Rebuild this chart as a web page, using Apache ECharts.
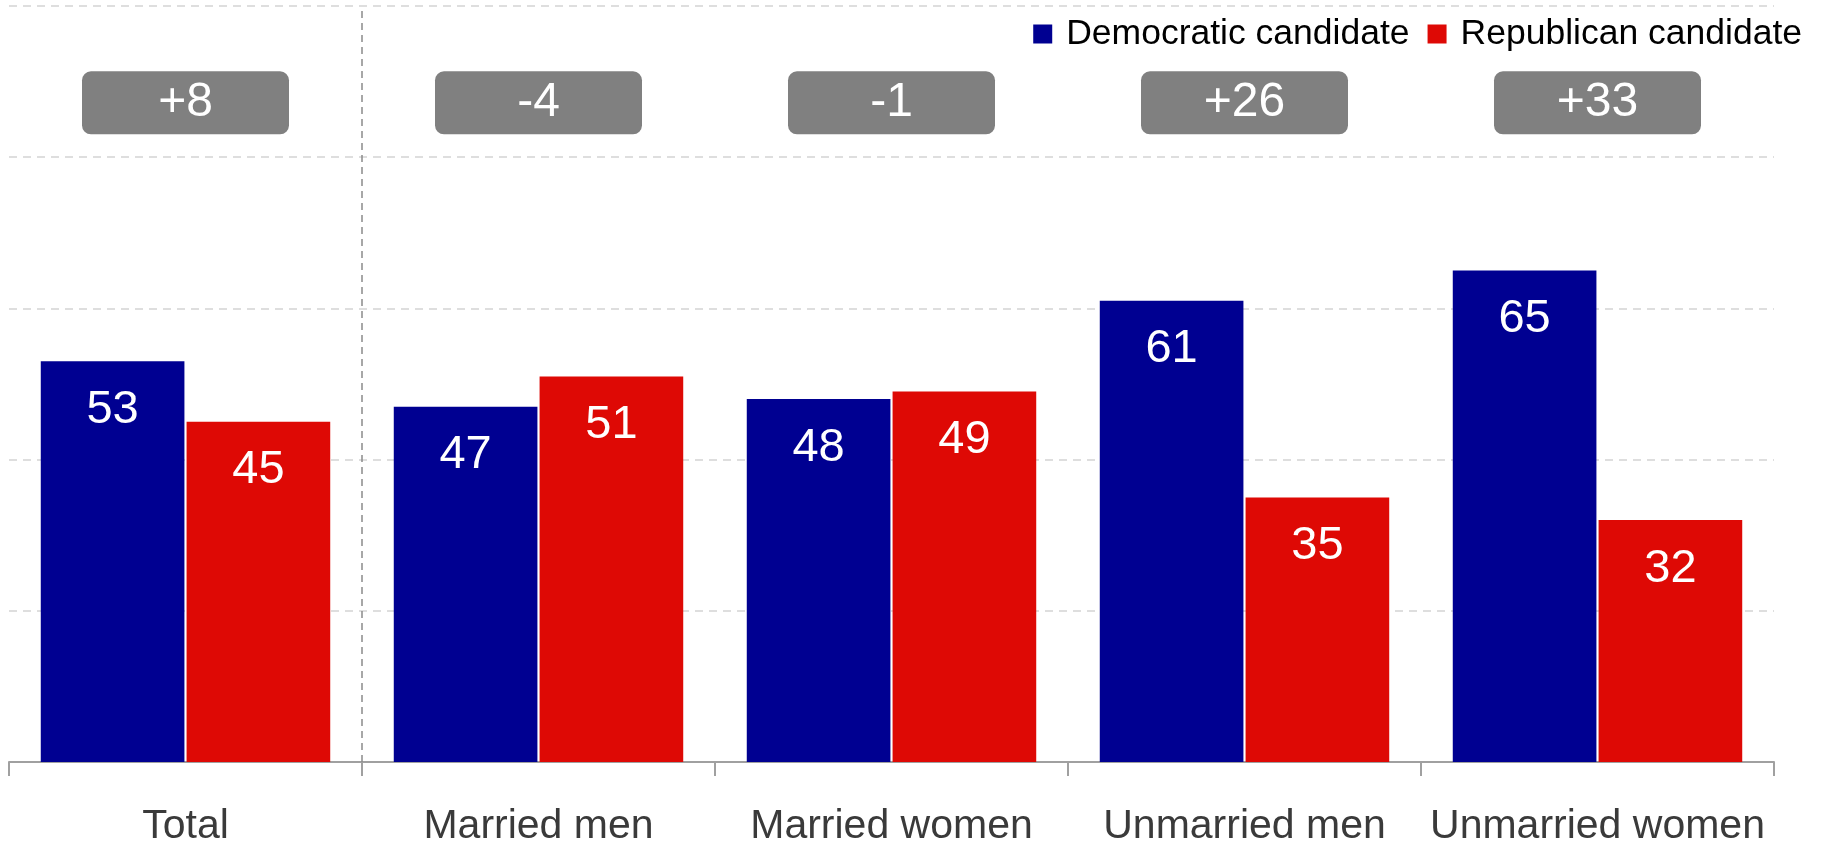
<!DOCTYPE html>
<html>
<head>
<meta charset="utf-8">
<script src="https://cdn.jsdelivr.net/npm/echarts@6/dist/echarts.min.js"></script>
<style>
html,body{margin:0;padding:0;background:#fff;}
#chart{width:1831px;height:847px;}
</style>
</head>
<body>
<div id="chart"></div>
<script>
// ---- data ----
const categories = ['Total', 'Married men', 'Married women', 'Unmarried men', 'Unmarried women'];
const democratic = [53, 47, 48, 61, 65];
const republican = [45, 51, 49, 35, 32];
const seriesNames = ['Democratic candidate', 'Republican candidate'];
const yTicks = [0, 20, 40, 60, 80, 100];

// derived: margin (Dem - Rep) shown in gray boxes
const margins = democratic.map((d, i) => d - republican[i]);
const boxLevel = 87.2;

const chart = echarts.init(document.getElementById('chart'));
const font = 'Liberation Sans, Arial, sans-serif';

chart.setOption({
  animation: false,
  backgroundColor: '#ffffff',
  grid: { left: 9, right: 57, top: 6, bottom: 80, containLabel: false },
  legend: {
    data: seriesNames,
    right: 24,
    top: 11,
    icon: 'rect',
    itemWidth: 19,
    itemHeight: 19,
    itemGap: 18,
    textStyle: { fontFamily: font, fontSize: 35.5, color: '#000', padding: [0, 0, 0, 9] }
  },
  xAxis: [{
    type: 'category',
    data: categories,
    axisLine: { show: true, lineStyle: { color: '#a0a0a0', width: 2 } },
    axisTick: { show: true, length: 14, lineStyle: { color: '#a0a0a0', width: 2 } },
    axisLabel: { interval: 0, fontFamily: font, fontSize: 41, color: '#3a3a3a', margin: 44 },
    splitLine: { show: false }
  }, {
    type: 'value',
    min: 0,
    max: categories.length,
    show: false
  }],
  yAxis: {
    type: 'value',
    min: yTicks[0],
    max: yTicks[yTicks.length - 1],
    interval: yTicks[1] - yTicks[0],
    axisLabel: { show: false },
    axisLine: { show: false },
    axisTick: { show: false },
    splitLine: { show: true, lineStyle: { color: '#d4d4d4', type: [8, 6], width: 1.5 } }
  },
  series: [
    {
      name: seriesNames[0],
      type: 'bar',
      data: democratic,
      barGap: '1.5%',
      barCategoryGap: '18%',
      itemStyle: { color: '#000091' },
      label: {
        show: true, position: 'insideTop', distance: 25,
        color: '#fff', fontFamily: font, fontSize: 47
      }
    },
    {
      name: seriesNames[1],
      type: 'bar',
      data: republican,
      barGap: '1.5%',
      barCategoryGap: '18%',
      itemStyle: { color: '#DE0905' },
      label: {
        show: true, position: 'insideTop', distance: 25,
        color: '#fff', fontFamily: font, fontSize: 47
      }
    },
    {
      name: 'margin',
      type: 'scatter',
      data: margins.map((m, i) => [categories[i], boxLevel, m]),
      symbolSize: 0,
      silent: true,
      z: 5,
      itemStyle: { opacity: 1 },
      label: {
        show: true,
        position: 'inside',
        formatter: p => (p.value[2] > 0 ? '+' : '') + p.value[2],
        backgroundColor: '#808080',
        borderRadius: 9,
        width: 207,
        height: 63,
        lineHeight: 63,
        align: 'center',
        verticalAlign: 'middle',
        color: '#fff',
        fontFamily: font,
        fontSize: 48
      }
    },
    {
      name: 'divider',
      type: 'line',
      xAxisIndex: 1,
      data: [[1, yTicks[0]], [1, yTicks[yTicks.length - 1]]],
      symbol: 'none',
      silent: true,
      z: 1,
      lineStyle: { color: '#8a8a8a', width: 1.5, type: [7, 5] }
    }
  ]
});
</script>
</body>
</html>
